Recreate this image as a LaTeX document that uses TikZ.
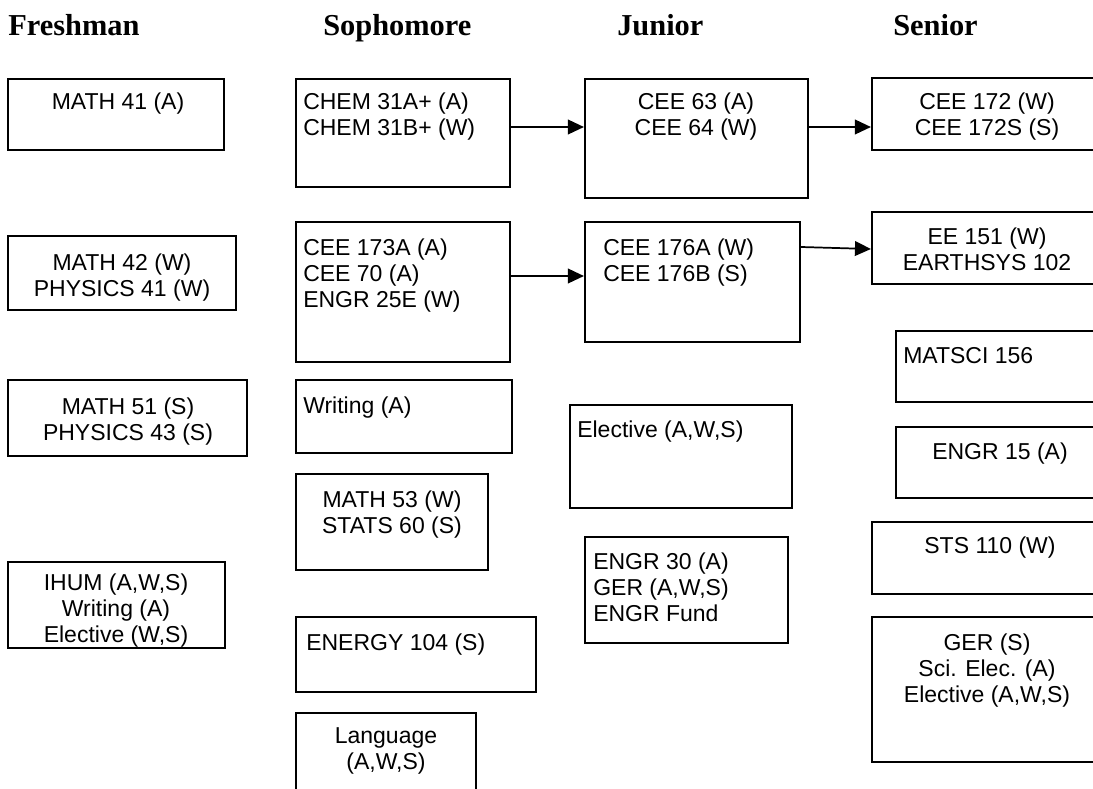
\documentclass[tikz,border=0pt]{standalone}
\usepackage{fontspec}
\setmainfont{Liberation Sans}
\newfontfamily\headfont{Liberation Serif}
\usetikzlibrary{fit,arrows.meta}

% one unit = one pixel of a 1093 x 789 sheet, y growing downwards
\tikzset{
  x=0.75pt, y=-0.75pt,
  course/.style={draw=black, line width=1.6pt, inner sep=0pt},
  ctext/.style={inner sep=0pt, anchor=north, align=center,
                font=\fontsize{17.25}{19.5}\selectfont},
  ltext/.style={inner sep=0pt, anchor=north west, align=left,
                font=\fontsize{17.25}{19.5}\selectfont},
  yearhead/.style={inner sep=0pt, anchor=base west,
                font=\headfont\bfseries\fontsize{22.8}{27}\selectfont},
  link/.style={line width=1.3pt, -{Triangle[length=12pt, width=11pt]}}
}

\begin{document}
\begin{tikzpicture}
\useasboundingbox (0,0) rectangle (1093,789);
\clip (0,0) rectangle (1093,789);

% year headings
\node[yearhead] (hfr) at (8,35)   {Freshman};
\node[yearhead] (hso) at (323,35) {Sophomore};
\node[yearhead] (hju) at (617,35) {Junior};
\node[yearhead] (hse) at (893,35) {Senior};

% Freshman
\node[course, fit={(8,79) (224,150)}]  (f1) {};
\node[ctext] (f1t) at (118,93)  {MATH 41 (A)};
\node[course, fit={(8,236) (236,310)}] (f2) {};
\node[ctext] (f2t) at (122,254) {MATH 42 (W)\\PHYSICS 41 (W)};
\node[course, fit={(8,380) (247,456)}] (f3) {};
\node[ctext] (f3t) at (128,398) {MATH 51 (S)\\PHYSICS 43 (S)};
\node[course, fit={(8,562) (225,648)}] (f4) {};
\node[ctext] (f4t) at (116,574) {IHUM (A,W,S)\\Writing (A)\\Elective (W,S)};

% Sophomore
\node[course, fit={(296,79) (510,187)}]  (chem) {};
\node[ltext] (chemt) at (303,93)  {CHEM 31A+ (A)\\CHEM 31B+ (W)};
\node[course, fit={(296,222) (510,362)}] (cee173) {};
\node[ltext] (cee173t) at (303,239) {CEE 173A (A)\\CEE 70 (A)\\ENGR 25E (W)};
\node[course, fit={(296,380) (512,453)}] (writ) {};
\node[ltext] (writt) at (303,397) {Writing (A)};
\node[course, fit={(296,474) (488,570)}] (m53) {};
\node[ctext] (m53t) at (392,491) {MATH 53 (W)\\STATS 60 (S)};
\node[course, fit={(296,617) (536,692)}] (enr) {};
\node[ltext] (enrt) at (306,634) {ENERGY 104 (S)};
\node[course, fit={(296,713) (476,800)}] (lang) {};
\node[ctext] (langt) at (386,727) {Language\\(A,W,S)};

% Junior
\node[course, fit={(585,79) (808,198)}]  (cee63) {};
\node[ctext] (cee63t) at (696,93) {CEE 63 (A)\\CEE 64 (W)};
\node[course, fit={(585,222) (800,342)}] (cee176) {};
\node[ltext] (cee176t) at (603,239) {CEE 176A (W)\\CEE 176B (S)};
\node[course, fit={(570,405) (792,508)}] (elec) {};
\node[ltext] (elect) at (577,421) {Elective (A,W,S)};
\node[course, fit={(585,537) (788,643)}] (e30) {};
\node[ltext] (e30t) at (593,553) {ENGR 30 (A)\\GER (A,W,S)\\ENGR Fund};

% Senior
\node[course, fit={(872,78) (1102,150)}]  (cee172) {};
\node[ctext] (cee172t) at (987,93) {CEE 172 (W)\\CEE 172S (S)};
\node[course, fit={(872,212) (1102,284)}] (ee151) {};
\node[ctext] (ee151t) at (987,228) {EE 151 (W)\\EARTHSYS 102};
\node[course, fit={(896,331) (1102,402)}] (mat) {};
\node[ltext] (matt) at (903,347) {MATSCI 156};
\node[course, fit={(896,427) (1104,498)}] (e15) {};
\node[ctext] (e15t) at (1000,443) {ENGR 15 (A)};
\node[course, fit={(872,522) (1108,594)}] (sts) {};
\node[ctext] (stst) at (990,537) {STS 110 (W)};
\node[course, fit={(872,617) (1102,762)}] (ger) {};
\node[ctext] (gert) at (987,634) {GER (S)\\Sci. Elec. (A)\\Elective (A,W,S)};

% prerequisite chains
\coordinate (rowa) at (0,127);
\coordinate (rowb) at (0,276);
\coordinate (rowc) at (0,247);
\coordinate (rowd) at (0,249);
\draw[link] (chem.east |- rowa)   -- (cee63.west |- rowa);
\draw[link] (cee63.east |- rowa)  -- (cee172.west |- rowa);
\draw[link] (cee173.east |- rowb) -- (cee176.west |- rowb);
\draw[link] (cee176.east |- rowc) -- (ee151.west |- rowd);
\end{tikzpicture}
\end{document}
